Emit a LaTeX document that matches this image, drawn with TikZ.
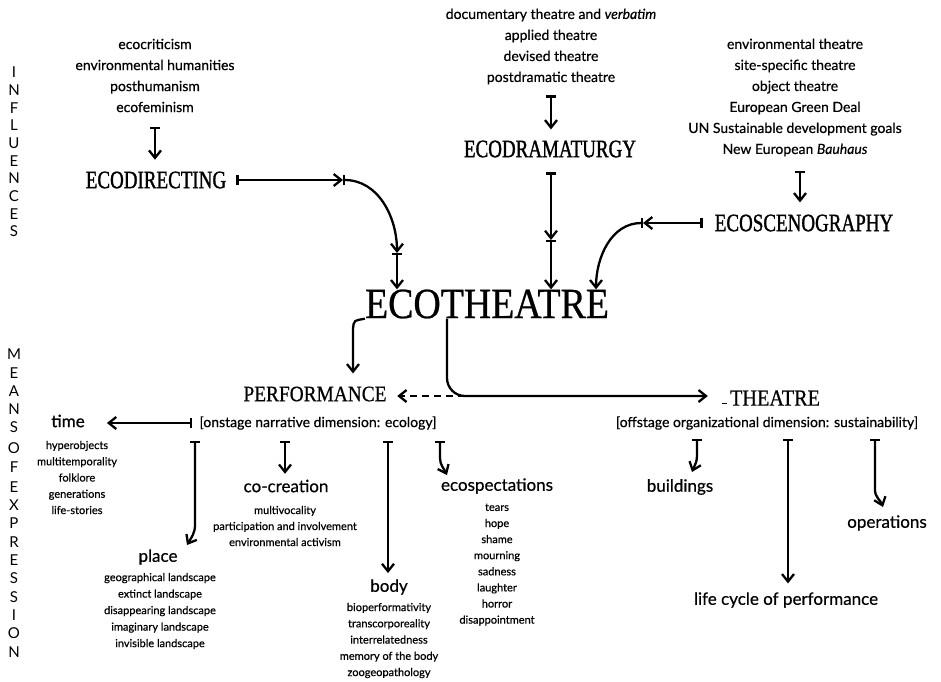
\documentclass[tikz,border=0pt]{standalone}
\usepackage{fontspec}
\setmainfont{Lato}[FakeBold=0.5]
\newfontfamily\sidefont{Lato}
\newfontfamily\ttlfont[FakeStretch=0.76,FakeBold=1.2]{Liberation Serif}
\newfontfamily\bigfont[FakeStretch=0.88,FakeBold=0.6]{Liberation Serif}
\usetikzlibrary{arrows.meta}
\newcommand{\fsz}[2]{\fontsize{#1}{#2}\selectfont}
\tikzset{
  hd/.tip={Straight Barb[length=7.5pt,width=12pt]},
  tl/.tip={Bar[width=10pt]},
}
\begin{document}
\begin{tikzpicture}[x=1pt,y=-1pt,
  lst/.style={align=center,inner sep=0pt,font=\fsz{14}{21}},
  sml/.style={align=center,inner sep=0pt,font=\fsz{11}{16.25}},
  hdg/.style={inner sep=0pt,font=\fsz{17}{20}},
  ttl/.style={inner sep=0pt,font=\ttlfont\fsz{25}{25}},
  big/.style={inner sep=0pt,font=\bigfont\fsz{#1}{#1}},
  conn/.style={line width=2.3pt},
  letters/.style={align=center,inner sep=0pt,font=\sidefont\fsz{15}{#1}}]
\path[use as bounding box] (0,0) rectangle (941,681);

% side labels
\node[letters=17.7] (infl) at (14,152) {I\\N\\F\\L\\U\\E\\N\\C\\E\\S};
\node[letters=18.3] (means) at (14,503) {M\\E\\A\\N\\S\\[2.5pt]O\\F\\[2pt]E\\X\\P\\R\\E\\S\\S\\I\\O\\N};

% influences
\node[lst] (src1) at (155,75.5) {ecocriticism\\environmental humanities\\posthumanism\\ecofeminism};
\node[lst] (src2) at (551,46.5) {documentary theatre and \textit{verbatim}\\applied theatre\\devised theatre\\postdramatic theatre};
\node[lst] (src3) at (795,97.5) {environmental theatre\\site-specific theatre\\object theatre\\European Green Deal\\UN Sustainable development goals\\New European \textit{Bauhaus}};

\node[ttl] (edir) at (156,180) {ECODIRECTING};
\node[ttl] (edram) at (550,149) {ECODRAMATURGY};
\node[ttl] (escen) at (804,223) {ECOSCENOGRAPHY};
\node[big=43] (etheatre) at (487,304) {ECOTHEATRE};
\node[big=22] (perf) at (315,394) {PERFORMANCE};
\node[big=23] (theat) at (775,398) {THEATRE};
\node[lst] (perfsub) at (318,423) {[onstage narrative dimension: ecology]};
\node[lst] (theatsub) at (767,423) {[offstage organizational dimension: sustainability]};

% means of expression
\node[hdg] (time) at (68,421) {time};
\node[sml] (timel) at (77,477.5) {hyperobjects\\multitemporality\\folklore\\generations\\life-stories};
\node[hdg] (place) at (158,557) {place};
\node[sml,font=\fsz{11}{16.5}] (placel) at (160,611) {geographical landscape\\extinct landscape\\disappearing landscape\\imaginary landscape\\invisible landscape};
\node[hdg] (cocr) at (286,486) {co-creation};
\node[sml,font=\fsz{11}{16}] (cocrl) at (285,526) {multivocality\\participation and involvement\\environmental activism};
\node[hdg] (body) at (389,587) {body};
\node[sml] (bodyl) at (389,640.5) {bioperformativity\\transcorporeality\\interrelatedness\\memory of the body\\zoogeopathology};
\node[hdg] (ecosp) at (497,486) {ecospectations};
\node[sml,font=\fsz{11}{16.1}] (ecospl) at (497,564.5) {tears\\hope\\shame\\mourning\\sadness\\laughter\\horror\\disappointment};
\node[hdg] (build) at (680,487) {buildings};
\node[hdg] (life) at (786,600) {life cycle of performance};
\node[hdg] (oper) at (887,523) {operations};

% joints
\coordinate (j1) at (343,180);
\coordinate (j2) at (397,253);
\coordinate (k1) at (551,240);
\coordinate (m1) at (643,223);
\coordinate (t1) at (465,396);

% influences -> eco-fields
\draw[conn,{tl}-{hd},shorten <=14.5pt,shorten >=11.7pt] (src1.south) -- (src1.south |- edir.north);
\draw[conn,{tl}-{hd},shorten <=10.8pt,shorten >=11pt] (src2.south) -- (src2.south |- edram.north);
\draw[conn,{tl}-{hd},shorten <=14pt,shorten >=12pt] (800,0 |- src3.south) -- (800,0 |- escen.north);

% eco-fields -> ECOTHEATRE
\draw[conn,{tl}-{hd},shorten <=10pt] (edir.east) -- (j1);
\draw[conn,{tl}-{hd}] (j1) to[out=0,in=90] (j2);
\draw[conn,{tl}-{hd}] (j2) -- (j2 |- etheatre.north);
\draw[conn,{tl}-{hd},shorten <=14.7pt] (edram.south -| k1) -- (k1);
\draw[conn,{tl}-{hd}] (k1) -- (k1 |- etheatre.north);
\draw[conn,{tl}-{hd},shorten <=12pt] (escen.west) -- (m1);
\draw[conn,{tl}-{hd}] (m1) to[out=180,in=90] (596,0 |- etheatre.north);

% ECOTHEATRE -> PERFORMANCE / THEATRE
\draw[conn,-{hd},shorten >=13pt] (etheatre.south west) -- (358,320) to[out=180,in=90] (353,332) -- (353,0 |- perf.north);
\draw[conn,-{hd},shorten >=22pt] (447,0 |- etheatre.south) -- (447,378) to[out=-90,in=180] (t1) -- (t1 -| theat.west);
\draw[conn,dash pattern=on 7pt off 5pt,-{hd},shorten >=10.5pt] (t1) -- (t1 -| perf.east);
\draw[line width=1pt] (722,403) -- (727,403);

% PERFORMANCE branches
\draw[conn,{tl}-{hd},shorten <=7pt,shorten >=22pt] (perfsub.west) -- (perfsub.west -| time.east);
\draw[conn,{tl}-{hd},shorten <=11pt] (195,0 |- perfsub.south) -- (195,525) to[out=-90,in=60] (187,545);
\draw[conn,{tl}-{hd},shorten <=11pt,shorten >=5.7pt] (285,0 |- perfsub.south) -- (285,0 |- cocr.north);
\draw[conn,{tl}-{hd},shorten <=11pt,shorten >=6pt] (388,0 |- perfsub.south) -- (388,0 |- body.north);
\draw[conn,{tl}-{hd},shorten <=11pt] (440,0 |- perfsub.south) -- (440,458) to[out=-90,in=115] (447,475);

% THEATRE branches
\draw[conn,{tl}-{hd},shorten <=9pt] (697,0 |- theatsub.south) -- (697,456) to[out=-90,in=70] (692,472);
\draw[conn,{tl}-{hd},shorten <=9pt,shorten >=8.7pt] (788,0 |- theatsub.south) -- (788,0 |- life.north);
\draw[conn,{tl}-{hd},shorten <=9pt] (875,0 |- theatsub.south) -- (875,490) to[out=-90,in=110] (883,507);
\end{tikzpicture}
\end{document}
